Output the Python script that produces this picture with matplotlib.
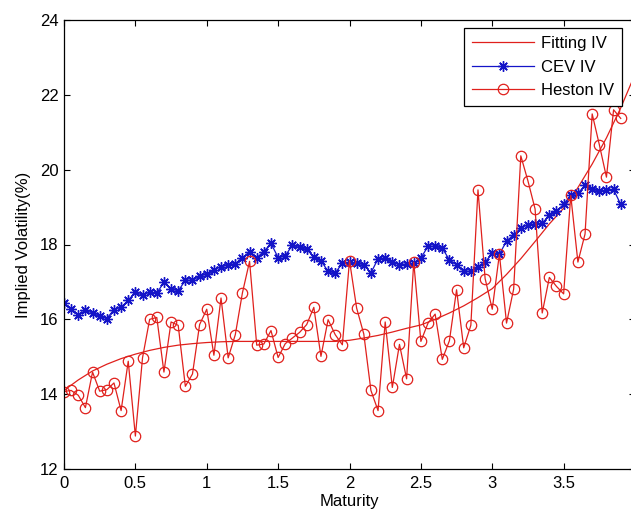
import matplotlib
matplotlib.use("Agg")
import matplotlib.pyplot as plt
import numpy as np

# maturities of the model points (step 0.05) and of the fitted curve (step 0.1)
maturity = np.round(np.arange(79) * 0.05, 2)
fit_maturity = np.round(np.arange(41) * 0.1, 1)

fitting_iv = [
    14.10, 14.38, 14.62, 14.80, 14.95, 15.07, 15.17, 15.25, 15.31, 15.35,
    15.38, 15.40, 15.41, 15.41, 15.41, 15.41, 15.41, 15.41, 15.41, 15.41,
    15.44, 15.50, 15.57, 15.66, 15.76, 15.85, 16.00, 16.17, 16.36, 16.58,
    16.82, 17.20, 17.62, 18.08, 18.55, 18.97, 19.52, 20.15, 20.85, 21.65,
    22.55,
]

cev_iv = [
    16.43, 16.28, 16.12, 16.24, 16.17, 16.08, 16.02, 16.26, 16.32, 16.51,
    16.73, 16.64, 16.73, 16.70, 16.99, 16.82, 16.76, 17.04, 17.04, 17.15,
    17.22, 17.32, 17.41, 17.46, 17.49, 17.65, 17.80, 17.65, 17.81, 18.03,
    17.65, 17.70, 17.98, 17.92, 17.87, 17.67, 17.57, 17.28, 17.24, 17.50,
    17.52, 17.50, 17.46, 17.24, 17.62, 17.64, 17.52, 17.46, 17.48, 17.50,
    17.64, 17.95, 17.95, 17.90, 17.59, 17.46, 17.28, 17.28, 17.41, 17.52,
    17.78, 17.74, 18.09, 18.26, 18.44, 18.53, 18.55, 18.57, 18.78, 18.90,
    19.07, 19.32, 19.37, 19.58, 19.47, 19.43, 19.45, 19.47, 19.07,
]

heston_iv = [
    14.07, 14.10, 13.97, 13.64, 14.59, 14.08, 14.12, 14.30, 13.56, 14.88,
    12.88, 14.97, 16.00, 16.05, 14.59, 15.93, 15.84, 14.21, 14.54, 15.86,
    16.27, 15.04, 16.57, 14.97, 15.59, 16.71, 17.55, 15.31, 15.34, 15.70,
    14.98, 15.35, 15.50, 15.65, 15.86, 16.32, 15.01, 15.99, 15.59, 15.32,
    17.57, 16.30, 15.61, 14.10, 13.56, 15.93, 14.18, 15.33, 14.41, 17.53,
    15.41, 15.90, 16.14, 14.93, 15.43, 16.79, 15.24, 15.84, 19.46, 17.09,
    16.27, 17.74, 15.90, 16.81, 20.37, 19.70, 18.95, 16.17, 17.12, 16.88,
    16.68, 19.31, 17.53, 18.28, 21.49, 20.67, 19.80, 21.60, 21.37,
]

x_ticks = [0, 0.5, 1, 1.5, 2, 2.5, 3, 3.5, 4]
x_tick_labels = ['0', '0.5', '1', '1.5', '2', '2.5', '3', '3.5', '4']
y_ticks = [12, 14, 16, 18, 20, 22, 24]

plt.rcParams['font.family'] = ['Liberation Sans', 'DejaVu Sans']

W, H = 631, 515
fig = plt.figure(figsize=(W / 100, H / 100), dpi=100)
fig.patch.set_facecolor('white')

# axes box in pixels: left 64, right 635 (cut off), top 20, bottom 469
ax = fig.add_axes([64 / W, 1 - 469 / H, 571 / W, 449 / H])

red = '#e0201c'
blue = '#1414c8'

ax.plot(fit_maturity, fitting_iv, '-', color=red, lw=0.9, label='Fitting IV')
ax.plot(maturity, cev_iv, '-', color=blue, lw=0.9, marker=(8, 2, 0),
        ms=7.5, mew=1.0, label='CEV IV')
ax.plot(maturity, heston_iv, '-', color=red, lw=0.9, marker='o', ms=7.5,
        mfc='none', mew=0.9, label='Heston IV')

ax.set_xlim(0, 4)
ax.set_ylim(12, 24)
ax.set_xticks(x_ticks)
ax.set_xticklabels(x_tick_labels)
ax.set_yticks(y_ticks)

ax.tick_params(direction='in', length=4, width=0.8, top=True, right=True,
               labelsize=12, colors='black')
ax.tick_params(axis='x', pad=5)
ax.tick_params(axis='y', pad=4)
for s in ax.spines.values():
    s.set_linewidth(0.9)

ax.set_xlabel('Maturity', fontsize=12, labelpad=2)
ax.set_ylabel('Implied Volatility(%)', fontsize=12, labelpad=6)

leg = ax.legend(loc='upper right', bbox_to_anchor=(622 / W, 1 - 28 / H),
                bbox_transform=fig.transFigure, fontsize=12, fancybox=False,
                framealpha=1, edgecolor='black', handlelength=3.7,
                handletextpad=0.4, labelspacing=0.5, borderpad=0.5,
                borderaxespad=0)
leg.get_frame().set_linewidth(0.9)

fig.savefig('out.png', dpi=100, facecolor='white')
